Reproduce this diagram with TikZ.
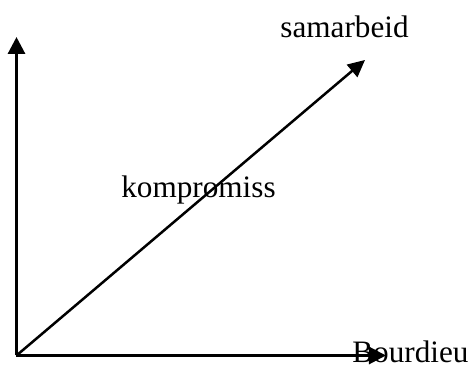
\documentclass[tikz,border=0pt]{standalone}
\usepackage{fontspec}
\setmainfont{Liberation Serif}
\usetikzlibrary{arrows.meta}
\begin{document}
\begin{tikzpicture}[x=0.5pt,y=-0.5pt,
  axis/.style={line width=1.5pt,-{Triangle[length=8.5pt,width=8.5pt]}},
  diag/.style={line width=1.25pt,-{Triangle[length=8.5pt,width=8pt]}},
  lbl/.style={inner sep=0pt,anchor=base west,font=\fontsize{15.6}{18}\selectfont}]
\useasboundingbox (0,0) rectangle (473,367);
\coordinate (o) at (16.5,355.5);
\coordinate (ytop) at (16.5,37);
\coordinate (xend) at (386,355.5);
\coordinate (dend) at (365,60);
\node[lbl] (sam) at (280,38) {samarbeid};
\node[lbl] (komp) at (121,198) {kompromiss};
\node[lbl] (bour) at (352,363) {Bourdieu};
\draw[axis] (o) -- (ytop);
\draw[axis] (o) -- (xend);
\draw[diag] (o) -- (dend);
\end{tikzpicture}
\end{document}
